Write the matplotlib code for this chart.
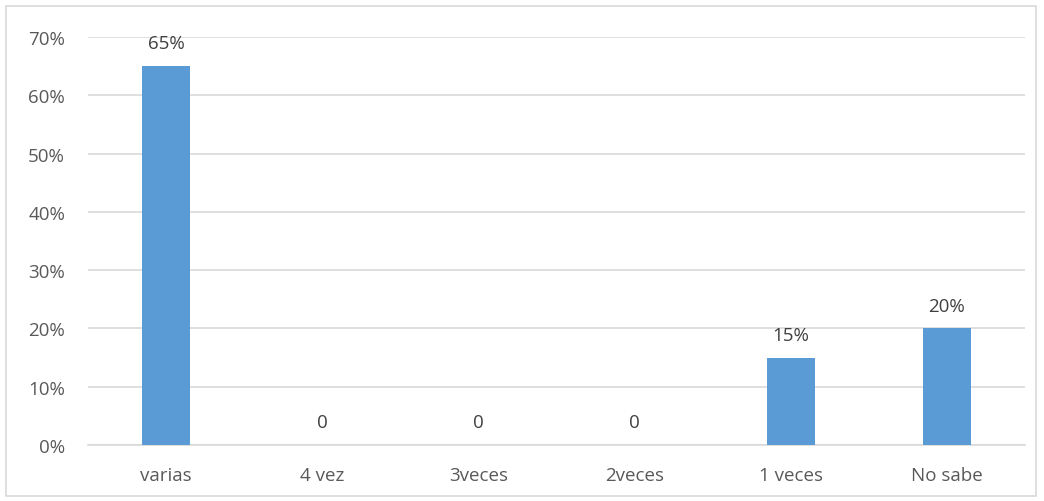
import matplotlib.pyplot as plt
from matplotlib.patches import Rectangle

categorias = ['varias', '4 vez', '3veces', '2veces', '1 veces', 'No sabe']
valores = [65, 0, 0, 0, 15, 20]
etiquetas = ['65%', '0', '0', '0', '15%', '20%']
ticksY = [0, 10, 20, 30, 40, 50, 60, 70]

plt.rcParams['font.family'] = ['Open Sans', 'DejaVu Sans']

fig = plt.figure(figsize=(10.44, 5.02), dpi=100)
ax = fig.add_axes([88 / 1044, 1 - 446 / 502, (1025 - 88) / 1044, (446 - 38) / 502])

# borda externa do grafico
fig.patches.append(Rectangle((6 / 1044, 1 - 497 / 502), (1036 - 6) / 1044, (497 - 7) / 502,
                             transform=fig.transFigure, fill=False,
                             edgecolor='#D9D9D9', linewidth=1.2))

x = range(len(categorias))
ax.bar(x, valores, width=0.31, color='#5B9BD5', zorder=3)

for i, (v, txt) in enumerate(zip(valores, etiquetas)):
    ax.annotate(txt, (i, v), xytext=(0, 10), textcoords='offset points',
                ha='center', va='bottom', fontsize=13.5, color='#404040')

ax.set_xlim(-0.5, len(categorias) - 0.5)
ax.set_ylim(0, 70)
ax.set_yticks(ticksY)
ax.set_yticklabels([f'{t}%' for t in ticksY])
ax.set_xticks(list(x))
ax.set_xticklabels(categorias)
ax.tick_params(axis='both', length=0, labelsize=13.5, labelcolor='#595959')
ax.tick_params(axis='x', pad=15)
ax.tick_params(axis='y', pad=16.5)

ax.grid(axis='y', color='#D9D9D9', linewidth=1.2, zorder=0)
for lado in ['top', 'right', 'left']:
    ax.spines[lado].set_visible(False)
ax.spines['bottom'].set_color('#D9D9D9')
ax.spines['bottom'].set_linewidth(1.2)

plt.savefig('out.png', dpi=100)
plt.close()
